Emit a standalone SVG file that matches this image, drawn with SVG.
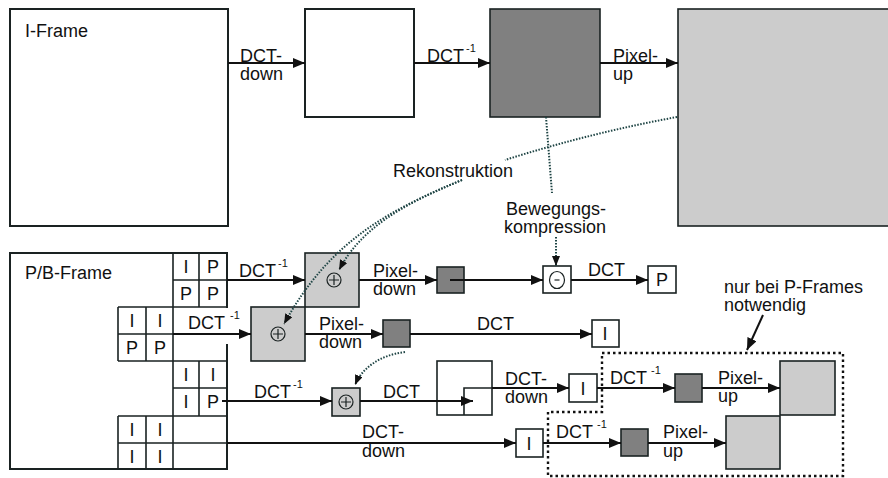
<svg xmlns="http://www.w3.org/2000/svg" width="888" height="478" viewBox="0 0 888 478">
<style>
text{font-family:"Liberation Sans",Arial,sans-serif;font-size:18px;fill:#111}
.sup{font-size:11px}
.c{text-anchor:middle}
.box{fill:#fff;stroke:#1a2222;stroke-width:1.6}
.big{fill:#fff;stroke:#1a2222;stroke-width:2}
.dark{fill:#808080;stroke:#1a2222;stroke-width:1.6}
.light{fill:#cccccc;stroke:#1a2222;stroke-width:1.6}
.ln{fill:none;stroke:#1a2222;stroke-width:1.6}
.arr{fill:none;stroke:#111;stroke-width:2;marker-end:url(#ah)}
.dot{fill:none;stroke:#1f4545;stroke-width:2;stroke-dasharray:1.5 1.5}
.dotA{fill:none;stroke:#1f4545;stroke-width:2;stroke-dasharray:1.5 1.5;marker-end:url(#ahs)}
.sym{fill:none;stroke:#1a2222;stroke-width:1.2}
</style>
<defs>
<marker id="ah" markerUnits="userSpaceOnUse" markerWidth="13" markerHeight="11" refX="12" refY="5" orient="auto"><path d="M0,0 L12,5 L0,10 Z" fill="#111"/></marker>
<marker id="ahs" markerUnits="userSpaceOnUse" markerWidth="11" markerHeight="9" refX="10" refY="4" orient="auto"><path d="M0,0 L10,4 L0,8 Z" fill="#111"/></marker>
</defs>

<g id="i-frame"><rect class="big" x="10" y="9" width="218" height="217"/><text x="25" y="37">I-Frame</text></g>
<g id="dct-down-block"><rect class="big" x="305" y="9" width="109" height="108"/></g>
<g id="idct-block"><rect class="dark" x="490" y="9" width="110" height="108"/></g>
<g id="pixel-up-block"><rect class="light" x="678" y="9" width="220" height="217"/></g>

<g id="pb-frame">
<rect class="big" x="10" y="253" width="217" height="216" fill="none"/>
<rect x="226" y="308" width="3" height="36" fill="#fff"/>
<text x="25" y="279">P/B-Frame</text>
<path class="ln" d="M173,253 V307 M199,253 V307 M173,280 H227"/>
<text class="c" x="186" y="273">I</text><text class="c" x="213" y="273">P</text>
<text class="c" x="186" y="300">P</text><text class="c" x="213" y="300">P</text>
<path class="ln" d="M118,307 H227 M118,361 H227 M118,307 V361 M146,307 V361 M173,307 V361 M118,334 H173"/>
<text class="c" x="132" y="327">I</text><text class="c" x="160" y="327">I</text>
<text class="c" x="132" y="354">P</text><text class="c" x="160" y="354">P</text>
<path class="ln" d="M173,361 V416 M199,361 V416 M173,388 H227 M118,416 H227"/>
<text class="c" x="186" y="381">I</text><text class="c" x="213" y="381">I</text>
<text class="c" x="186" y="408">I</text><text class="c" x="213" y="408">P</text>
<path class="ln" d="M118,416 V469 M146,416 V469 M173,416 V469 M118,443 H227"/>
<text class="c" x="132" y="436">I</text><text class="c" x="160" y="436">I</text>
<text class="c" x="132" y="463">I</text><text class="c" x="160" y="463">I</text>
</g>

<g id="add-a"><rect class="light" x="305" y="253" width="54" height="54"/><circle class="sym" cx="334" cy="280" r="7"/><path class="sym" d="M329,280 H339 M334,275 V285"/></g>
<g id="add-b"><rect class="light" x="251" y="307" width="54" height="54"/><circle class="sym" cx="278" cy="334" r="7"/><path class="sym" d="M273,334 H283 M278,329 V339"/></g>
<g id="dark-1"><rect class="dark" x="437" y="267" width="27" height="26"/></g>
<g id="sub"><rect class="box" x="543" y="266" width="28" height="27"/><ellipse class="sym" cx="557" cy="280" rx="7.5" ry="8.5"/><path class="sym" d="M554.5,280 H559.5"/></g>
<g id="out-p"><rect class="box" x="648" y="266" width="28" height="27"/><text class="c" x="662" y="286">P</text></g>
<g id="dark-2"><rect class="dark" x="383" y="320" width="27" height="27"/></g>
<g id="out-i1"><rect class="box" x="592" y="320" width="27" height="27"/><text class="c" x="605" y="340">I</text></g>
<g id="add-c"><rect class="light" x="332" y="388" width="28" height="28"/><circle class="sym" cx="346" cy="402" r="7"/><path class="sym" d="M341,402 H351 M346,397 V407"/></g>
<g id="dct-block"><rect class="box" x="437" y="361" width="55" height="54"/><path class="ln" d="M464,415 V388 H492"/></g>
<g id="out-i2"><rect class="box" x="569" y="374" width="28" height="28"/><text class="c" x="583" y="395">I</text></g>
<g id="dark-3"><rect class="dark" x="675" y="374" width="27" height="28"/></g>
<g id="light-3"><rect class="light" x="780" y="361" width="55" height="54"/></g>
<g id="out-i3"><rect class="box" x="516" y="429" width="27" height="28"/><text class="c" x="529" y="450">I</text></g>
<g id="dark-4"><rect class="dark" x="621" y="429" width="27" height="27"/></g>
<g id="light-4"><rect class="light" x="726" y="416" width="54" height="53"/></g>

<g id="p-only-region"><path d="M602,353 H843 V476 H548 V412 H602 Z" fill="none" stroke="#111" stroke-width="2.4" stroke-dasharray="2.5 3"/>
<text x="724" y="293">nur bei P-Frames</text><text x="724" y="311">notwendig</text></g>

<g id="connectors">
<path class="arr" d="M228,63 H305"/>
<path class="arr" d="M414,63 H490"/>
<path class="arr" d="M600,63 H678"/>
<path class="arr" d="M227,280 H305"/>
<path class="arr" d="M359,280 H437"/>
<path class="arr" d="M450,280 H543"/>
<path class="arr" d="M571,280 H648"/>
<path class="arr" d="M173,334 H251"/>
<path class="arr" d="M305,334 H383"/>
<path class="arr" d="M410,334 H592"/>
<path class="arr" d="M222,401 H332"/>
<path class="arr" d="M360,401 H473"/>
<path class="arr" d="M492,388 H569"/>
<path class="arr" d="M597,388 H675"/>
<path class="arr" d="M702,388 H780"/>
<path class="arr" d="M227,443 H516"/>
<path class="arr" d="M543,443 H621"/>
<path class="arr" d="M648,443 H726"/>
<path class="arr" d="M763,315 L747,350"/>
<path class="dot" d="M677,117 Q590,133 505,160"/>
<path class="dotA" d="M462,180 C400,205 360,230 339,270"/>
<path class="dotA" d="M462,180 C390,210 330,240 284,324"/>
<path class="dot" d="M546,117 L552,193"/>
<path class="dotA" d="M556,237 V266"/>
<path class="dotA" d="M405,352 C380,355 362,368 355,385"/>
</g>

<g id="labels">
<text x="240" y="62">DCT-</text><text x="240" y="80">down</text>
<text x="427" y="62">DCT<tspan class="sup" dx="2" dy="-10">-1</tspan></text>
<text x="613" y="62">Pixel-</text><text x="613" y="80">up</text>
<text x="393" y="177">Rekonstruktion</text>
<text x="506" y="215">Bewegungs-</text><text x="504" y="233">kompression</text>
<text x="239" y="277">DCT<tspan class="sup" dx="2" dy="-10">-1</tspan></text>
<text x="373" y="277">Pixel-</text><text x="373" y="295">down</text>
<text x="588" y="276">DCT</text>
<text x="188" y="329">DCT<tspan class="sup" dx="5" dy="-10">-1</tspan></text>
<text x="319" y="330">Pixel-</text><text x="319" y="348">down</text>
<text x="477" y="330">DCT</text>
<text x="254" y="398">DCT<tspan class="sup" dx="2" dy="-10">-1</tspan></text>
<text x="383" y="398">DCT</text>
<text x="505" y="385">DCT-</text><text x="505" y="403">down</text>
<text x="610" y="384">DCT<tspan class="sup" dx="4" dy="-10">-1</tspan></text>
<text x="718" y="384">Pixel-</text><text x="718" y="402">up</text>
<text x="362" y="438">DCT-</text><text x="362" y="457">down</text>
<text x="556" y="438">DCT<tspan class="sup" dx="4" dy="-10">-1</tspan></text>
<text x="663" y="438">Pixel-</text><text x="663" y="457">up</text>
</g>
</svg>
